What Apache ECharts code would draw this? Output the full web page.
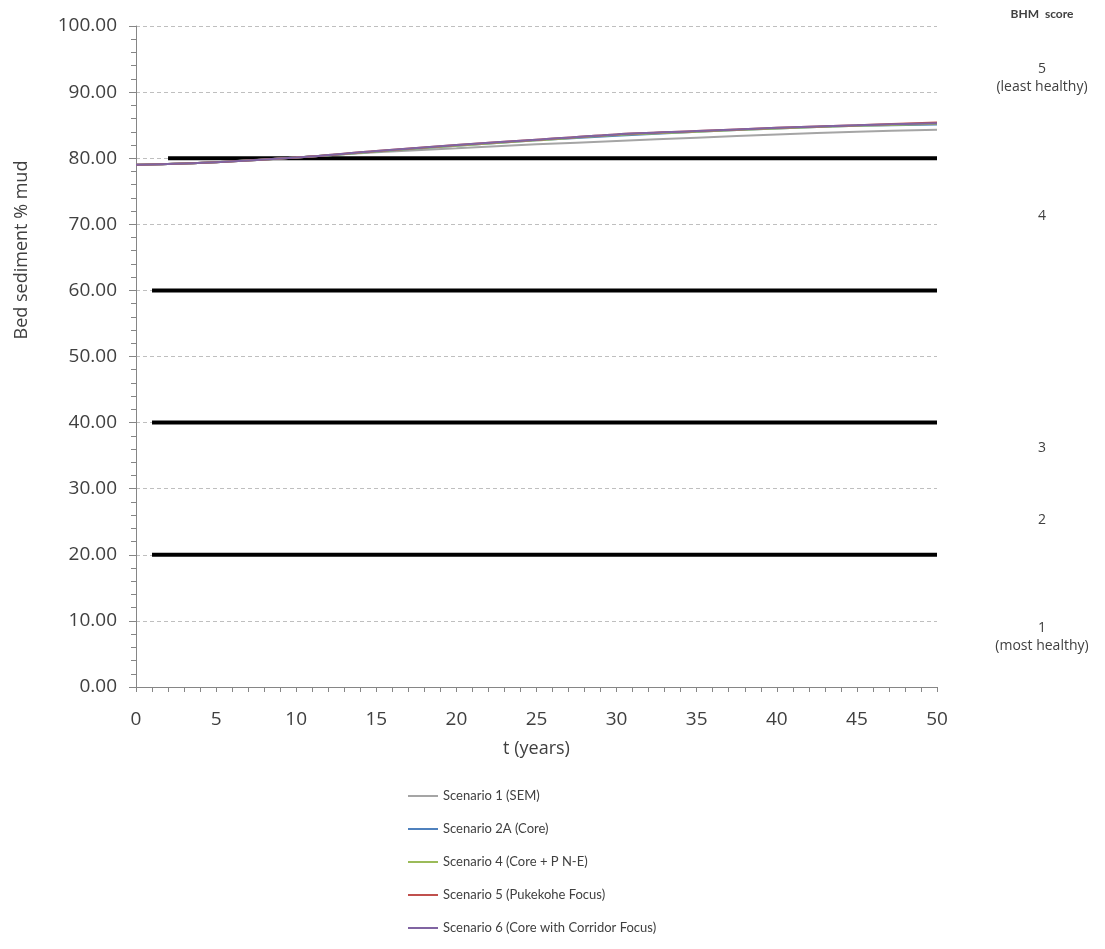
<!DOCTYPE html>
<html>
<head>
<meta charset="utf-8">
<script src="https://cdn.jsdelivr.net/npm/echarts@6/dist/echarts.min.js"></script>
<style>
html,body{margin:0;padding:0;background:#fff;}
#chart{width:1105px;height:949px;}
</style>
</head>
<body>
<div id="chart"></div>
<script>
// ---- data ----
const years = [0, 5, 10, 15, 20, 25, 30, 35, 40, 45, 50];
const scenario1 = [79.0, 79.4, 80.1, 80.9, 81.5, 82.1, 82.6, 83.1, 83.6, 84.0, 84.3];
const scenario2A = [79.0, 79.4, 80.1, 81.0, 81.9, 82.7, 83.4, 84.0, 84.5, 84.9, 85.1];
const scenario4 = [79.0, 79.4, 80.1, 81.0, 81.9, 82.7, 83.5, 84.0, 84.5, 84.9, 85.2];
const scenario5 = [79.0, 79.4, 80.1, 81.1, 82.0, 82.8, 83.6, 84.1, 84.6, 85.0, 85.4];
const scenario6 = [79.0, 79.4, 80.1, 81.1, 82.0, 82.8, 83.6, 84.1, 84.6, 85.0, 85.3];
const seriesNames = ['Scenario 1 (SEM)', 'Scenario 2A (Core)', 'Scenario 4 (Core + P N-E)', 'Scenario 5 (Pukekohe Focus)', 'Scenario 6 (Core with Corridor Focus)'];
const seriesValues = [scenario1, scenario2A, scenario4, scenario5, scenario6];
const seriesColors = ['#A5A5A5', '#4F81BD', '#9BBB59', '#C0504D', '#8064A2'];
// BHM thresholds: [startYear, endYear, value]
const thresholds = [[2, 50, 80], [1, 50, 60], [1, 50, 40], [1, 50, 20]];
// BHM score labels: [value position, label]
const bhmLabels = [[92.1, '5\n(least healthy)'], [71.2, '4'], [36.2, '3'], [25.3, '2'], [7.6, '1\n(most healthy)']];

const FONT = '"Open Sans", Lato, sans-serif';
const chart = echarts.init(document.getElementById('chart'), null, {renderer: 'canvas'});

const series = [];
thresholds.forEach((t, i) => {
  series.push({
    name: 'threshold' + i,
    type: 'line',
    data: [[t[0], t[2]], [t[1], t[2]]],
    symbol: 'none',
    lineStyle: {color: '#000', width: 4},
    silent: true,
    z: 2
  });
});
seriesValues.forEach((vals, i) => {
  series.push({
    name: seriesNames[i],
    type: 'line',
    data: years.map((y, j) => [y, vals[j]]),
    symbol: 'none',
    smooth: 0.3,
    lineStyle: {color: seriesColors[i], width: 2},
    itemStyle: {color: seriesColors[i]},
    z: 3
  });
});

const option = {
  backgroundColor: '#fff',
  animation: false,
  grid: {left: 136, right: 168, top: 26, bottom: 262, containLabel: false},
  legend: {
    data: seriesNames,
    orient: 'vertical',
    left: 408,
    top: 788,
    padding: 0,
    icon: 'rect',
    itemWidth: 30,
    itemHeight: 2,
    itemGap: 17,
    textStyle: {fontFamily: 'Lato, sans-serif', fontSize: 13, color: '#404040', lineHeight: 16, padding: [0, 0, 0, 0]}
  },
  xAxis: {
    type: 'value',
    min: 0, max: 50, interval: 5,
    name: 't (years)',
    nameLocation: 'middle',
    nameGap: 53,
    nameTextStyle: {fontFamily: FONT, fontSize: 18, color: '#404040'},
    axisLine: {lineStyle: {color: '#868686', width: 1}},
    axisTick: {show: true, length: 5, lineStyle: {color: '#868686'}},
    minorTick: {show: true, splitNumber: 5, length: 5, lineStyle: {color: '#868686'}},
    axisLabel: {fontFamily: FONT, fontSize: 19, color: '#404040', margin: 23},
    splitLine: {show: false}
  },
  yAxis: {
    type: 'value',
    min: 0, max: 100, interval: 10,
    axisLine: {show: true, lineStyle: {color: '#868686', width: 1}},
    axisTick: {show: true, length: 7, lineStyle: {color: '#868686'}},
    minorTick: {show: true, splitNumber: 5, length: 5, lineStyle: {color: '#868686'}},
    axisLabel: {fontFamily: FONT, fontSize: 19, color: '#404040', margin: 19,
      formatter: v => v.toFixed(2)},
    splitLine: {show: true, lineStyle: {color: '#BFBFBF', type: [4, 3], width: 1}}
  },
  series: series
};
chart.setOption(option);

// axis title and right-side BHM labels positioned via the chart's own scale
const gfx = [
  {type: 'text', x: 22, y: 250, rotation: Math.PI / 2,
    style: {text: 'Bed sediment % mud', fontFamily: FONT, fontSize: 18, fill: '#404040', align: 'center', verticalAlign: 'middle'}},
  {type: 'text', x: 1042, y: 14,
    style: {text: 'BHM  score', fontFamily: 'Lato, sans-serif', fontSize: 12, fontWeight: 'bold', fill: '#404040', align: 'center', verticalAlign: 'middle'}}
];
bhmLabels.forEach(b => {
  const py = chart.convertToPixel({yAxisIndex: 0}, b[0]);
  gfx.push({type: 'text', x: 1042, y: py,
    style: {text: b[1], fontFamily: FONT, fontSize: 14, lineHeight: 18, fill: '#404040', align: 'center', verticalAlign: 'middle'}});
});
chart.setOption({graphic: gfx}, {replaceMerge: ['graphic']});
</script>
</body>
</html>
